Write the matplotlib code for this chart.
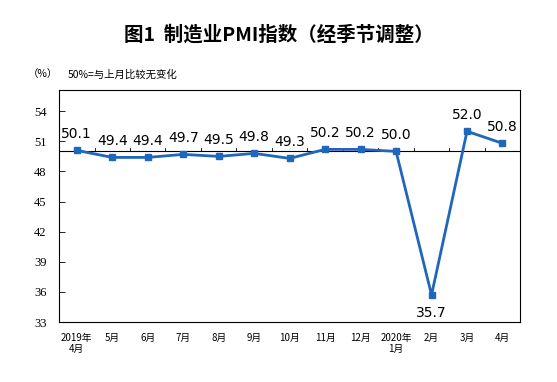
import matplotlib
matplotlib.use("Agg")
import matplotlib.pyplot as plt

plt.rcParams['font.family'] = ['Noto Sans CJK SC', 'DejaVu Sans']

months = ["2019年\n4月", "5月", "6月", "7月", "8月", "9月", "10月", "11月",
          "12月", "2020年\n1月", "2月", "3月", "4月"]
pmi = [50.1, 49.4, 49.4, 49.7, 49.5, 49.8, 49.3, 50.2, 50.2, 50.0, 35.7, 52.0, 50.8]
yticks = [33, 36, 39, 42, 45, 48, 51, 54]

fig = plt.figure(figsize=(5.57, 3.82), dpi=100)
ax = fig.add_axes([0.106, 0.157, 0.828, 0.607])

x = list(range(len(pmi)))
ax.plot(x, pmi, color="#1f66bd", linewidth=2, marker="s", markersize=4)

# 50 line with category boundary ticks
ax.axhline(50, color="black", linewidth=0.8, zorder=1)
for b in range(len(pmi) - 1):
    ax.plot([b + 0.5, b + 0.5], [50, 50.35], color="black", linewidth=0.6, zorder=1)

for xi, v in zip(x, pmi):
    if v < 40:
        ax.annotate(f"{v:.1f}", (xi, v), xytext=(0, -8), textcoords="offset points",
                    ha="center", va="top", fontsize=10, family="DejaVu Sans")
    else:
        ax.annotate(f"{v:.1f}", (xi, v), xytext=(0, 7), textcoords="offset points",
                    ha="center", va="bottom", fontsize=10, family="DejaVu Sans")

ax.set_xlim(-0.5, len(pmi) - 0.5)
ax.set_ylim(33, 56.1)
ax.set_yticks(yticks)
ax.set_yticklabels([str(t) for t in yticks], fontsize=9, family="Liberation Serif")
ax.set_xticks(x)
ax.set_xticklabels(months, fontsize=7, linespacing=1.1, va="top")
ax.tick_params(axis="x", length=0, pad=8)
ax.tick_params(axis="y", direction="in", length=4, width=0.6, pad=9)
for s in ax.spines.values():
    s.set_linewidth(0.8)

fig.text(0.5, 0.91, "图1  制造业PMI指数（经季节调整）", ha="center", va="center",
         fontsize=14, fontweight="bold")
fig.text(0.05, 0.805, "（%）", ha="left", va="center", fontsize=7.5)
fig.text(0.122, 0.805, "50%=与上月比较无变化", ha="left", va="center", fontsize=7.5)

fig.savefig("out.png", dpi=100)
